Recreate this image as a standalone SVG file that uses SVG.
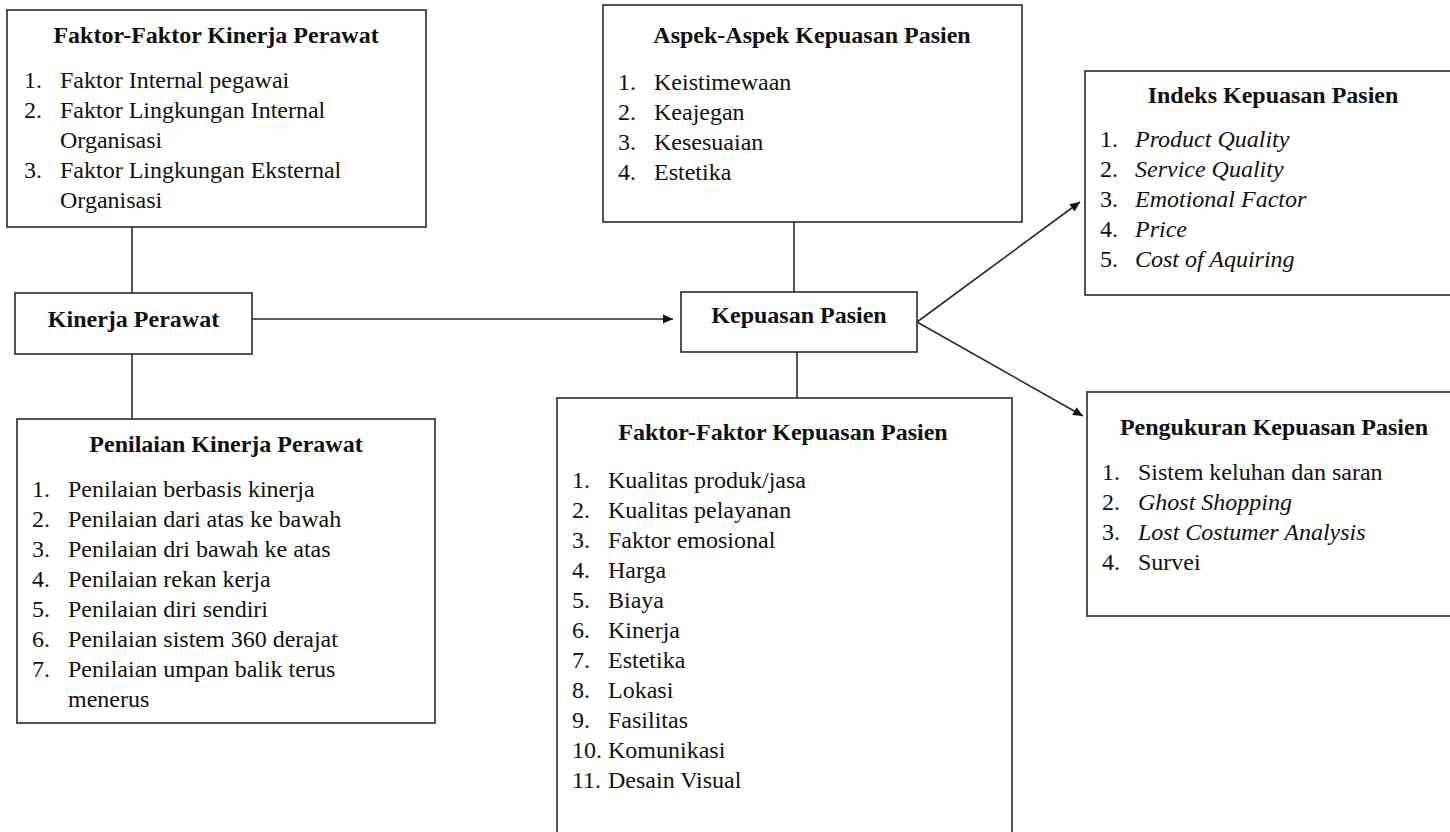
<svg xmlns="http://www.w3.org/2000/svg" width="1450" height="832" viewBox="0 0 1450 832">
<defs>
<style>
.box{fill:#fff;stroke:#2a2a2a;stroke-width:1.6}
.ln{fill:none;stroke:#2a2a2a;stroke-width:1.6}
text{font-family:'Liberation Serif','DejaVu Serif',serif;font-size:24px;fill:#111}
.t{font-weight:bold;text-anchor:middle}
.i{font-style:italic}
</style>
<marker id="ah" viewBox="0 0 10 10" refX="10" refY="5" markerWidth="10" markerHeight="10" markerUnits="userSpaceOnUse" orient="auto">
<path d="M0,0.5 L10,5 L0,9.5 z" fill="#111"/>
</marker>
</defs>
<rect width="1450" height="832" fill="#fff"/>
<g id="connectors">
<line class="ln" x1="132" y1="227" x2="132" y2="293"/>
<line class="ln" x1="132" y1="354" x2="132" y2="419"/>
<line class="ln" x1="794" y1="222" x2="794" y2="292"/>
<line class="ln" x1="797" y1="352" x2="797" y2="398"/>
<line class="ln" x1="252" y1="319" x2="673" y2="319" marker-end="url(#ah)"/>
<line class="ln" x1="917" y1="322" x2="1080" y2="202" marker-end="url(#ah)"/>
<line class="ln" x1="917" y1="322" x2="1083" y2="416" marker-end="url(#ah)"/>
</g>
<g id="faktor-kinerja" font-family="Liberation Serif">
<rect class="box" x="7" y="10" width="419" height="217"/>
<text class="t" x="216" y="43">Faktor-Faktor Kinerja Perawat</text>
<text x="24" y="88">1.</text><text x="60" y="88">Faktor Internal pegawai</text>
<text x="24" y="118">2.</text><text x="60" y="118">Faktor Lingkungan Internal</text>
<text x="60" y="148">Organisasi</text>
<text x="24" y="178">3.</text><text x="60" y="178">Faktor Lingkungan Eksternal</text>
<text x="60" y="208">Organisasi</text>
</g>
<g id="kinerja">
<rect class="box" x="15" y="293" width="237" height="61"/>
<text class="t" x="133.5" y="327">Kinerja Perawat</text>
</g>
<g id="penilaian">
<rect class="box" x="17" y="419" width="418" height="304"/>
<text class="t" x="226" y="452">Penilaian Kinerja Perawat</text>
<text x="32" y="497">1.</text><text x="68" y="497">Penilaian berbasis kinerja</text>
<text x="32" y="527">2.</text><text x="68" y="527">Penilaian dari atas ke bawah</text>
<text x="32" y="557">3.</text><text x="68" y="557">Penilaian dri bawah ke atas</text>
<text x="32" y="587">4.</text><text x="68" y="587">Penilaian rekan kerja</text>
<text x="32" y="617">5.</text><text x="68" y="617">Penilaian diri sendiri</text>
<text x="32" y="647">6.</text><text x="68" y="647">Penilaian sistem 360 derajat</text>
<text x="32" y="677">7.</text><text x="68" y="677">Penilaian umpan balik terus</text>
<text x="68" y="707">menerus</text>
</g>
<g id="aspek">
<rect class="box" x="603" y="5" width="419" height="217"/>
<text class="t" x="812" y="43">Aspek-Aspek Kepuasan Pasien</text>
<text x="618" y="90">1.</text><text x="654" y="90">Keistimewaan</text>
<text x="618" y="120">2.</text><text x="654" y="120">Keajegan</text>
<text x="618" y="150">3.</text><text x="654" y="150">Kesesuaian</text>
<text x="618" y="180">4.</text><text x="654" y="180">Estetika</text>
</g>
<g id="kepuasan">
<rect class="box" x="681" y="292" width="236" height="60"/>
<text class="t" x="799" y="323">Kepuasan Pasien</text>
</g>
<g id="faktor-kepuasan">
<rect class="box" x="557" y="398" width="455" height="450"/>
<text class="t" x="783" y="440">Faktor-Faktor Kepuasan Pasien</text>
<text x="572" y="488">1.</text><text x="608" y="488">Kualitas produk/jasa</text>
<text x="572" y="518">2.</text><text x="608" y="518">Kualitas pelayanan</text>
<text x="572" y="548">3.</text><text x="608" y="548">Faktor emosional</text>
<text x="572" y="578">4.</text><text x="608" y="578">Harga</text>
<text x="572" y="608">5.</text><text x="608" y="608">Biaya</text>
<text x="572" y="638">6.</text><text x="608" y="638">Kinerja</text>
<text x="572" y="668">7.</text><text x="608" y="668">Estetika</text>
<text x="572" y="698">8.</text><text x="608" y="698">Lokasi</text>
<text x="572" y="728">9.</text><text x="608" y="728">Fasilitas</text>
<text x="572" y="758">10.</text><text x="608" y="758">Komunikasi</text>
<text x="572" y="788">11.</text><text x="608" y="788">Desain Visual</text>
</g>
<g id="indeks">
<rect class="box" x="1085" y="71" width="400" height="224"/>
<text class="t" x="1273" y="103">Indeks Kepuasan Pasien</text>
<text x="1100" y="147">1.</text><text class="i" x="1135" y="147">Product Quality</text>
<text x="1100" y="177">2.</text><text class="i" x="1135" y="177">Service Quality</text>
<text x="1100" y="207">3.</text><text class="i" x="1135" y="207">Emotional Factor</text>
<text x="1100" y="237">4.</text><text class="i" x="1135" y="237">Price</text>
<text x="1100" y="267">5.</text><text class="i" x="1135" y="267">Cost of Aquiring</text>
</g>
<g id="pengukuran">
<rect class="box" x="1087" y="392" width="400" height="224"/>
<text class="t" x="1274" y="435">Pengukuran Kepuasan Pasien</text>
<text x="1102" y="480">1.</text><text x="1138" y="480">Sistem keluhan dan saran</text>
<text x="1102" y="510">2.</text><text class="i" x="1138" y="510">Ghost Shopping</text>
<text x="1102" y="540">3.</text><text class="i" x="1138" y="540">Lost Costumer Analysis</text>
<text x="1102" y="570">4.</text><text x="1138" y="570">Survei</text>
</g>
</svg>
